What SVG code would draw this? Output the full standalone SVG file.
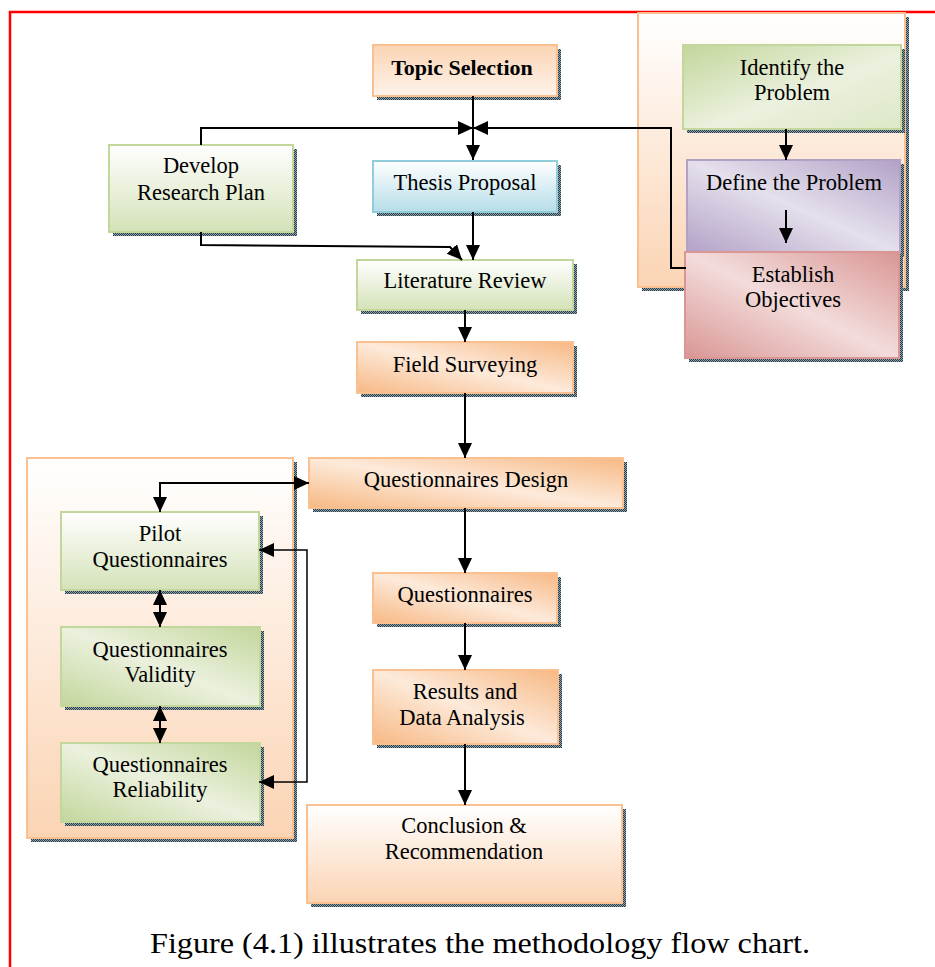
<svg xmlns="http://www.w3.org/2000/svg" width="935" height="967" viewBox="0 0 935 967">
<style>
text{font-family:"Liberation Serif","Times New Roman",serif;font-size:22.5px;fill:#000;text-anchor:middle}
.b{font-weight:bold;font-size:22px}
.sh{fill:url(#shd)}
.or{stroke:#FAC090;stroke-width:2}
.gr{stroke:#C3D69B;stroke-width:2}
.bl{stroke:#92CDDC;stroke-width:2}
.pu{stroke:#B2A1C7;stroke-width:2}
.pk{stroke:#D99694;stroke-width:2}
.c{fill:none;stroke:#000;stroke-width:2}
.a{marker-end:url(#ah)}
.d{marker-start:url(#ah);marker-end:url(#ah)}
</style>
<defs>
<pattern id="shd" width="2" height="2" patternUnits="userSpaceOnUse">
<rect width="2" height="2" fill="#8AA6B2"/>
<rect width="1" height="1" fill="#2F3A40"/>
<rect x="1" y="1" width="1" height="1" fill="#2F3A40"/>
</pattern>
<marker id="ah" markerUnits="userSpaceOnUse" markerWidth="16" markerHeight="16" refX="15" refY="7" orient="auto-start-reverse">
<path d="M0,0 L15,7 L0,14 z" fill="#000"/>
</marker>
<linearGradient id="orV" x1="0" y1="0" x2="0" y2="1"><stop offset="0" stop-color="#FBD4B4"/><stop offset="1" stop-color="#FEF3EA"/></linearGradient>
<linearGradient id="orV2" x1="0" y1="0" x2="0" y2="1"><stop offset="0" stop-color="#FFFFFF"/><stop offset="1" stop-color="#FBD4B4"/></linearGradient>
<linearGradient id="orD" x1="1" y1="0" x2="0" y2="1"><stop offset="0" stop-color="#F7B884"/><stop offset="0.5" stop-color="#FDEADA"/><stop offset="1" stop-color="#F7B884"/></linearGradient>
<linearGradient id="grV" x1="0" y1="0" x2="0" y2="1"><stop offset="0" stop-color="#FFFFFF"/><stop offset="1" stop-color="#D4E2B8"/></linearGradient>
<linearGradient id="grD" x1="1" y1="0" x2="0" y2="1"><stop offset="0" stop-color="#C3D69B"/><stop offset="0.5" stop-color="#EBF1DE"/><stop offset="1" stop-color="#C3D69B"/></linearGradient>
<linearGradient id="grD2" x1="0" y1="0" x2="1" y2="1"><stop offset="0" stop-color="#C3D69B"/><stop offset="0.55" stop-color="#EBF1DE"/><stop offset="1" stop-color="#DDE8C7"/></linearGradient>
<linearGradient id="blV" x1="0" y1="0" x2="0" y2="1"><stop offset="0" stop-color="#FFFFFF"/><stop offset="1" stop-color="#B6DDE8"/></linearGradient>
<linearGradient id="puD" x1="1" y1="0" x2="0" y2="1"><stop offset="0" stop-color="#B2A1C7"/><stop offset="0.5" stop-color="#E5E0EC"/><stop offset="1" stop-color="#B2A1C7"/></linearGradient>
<linearGradient id="pkD" x1="1" y1="0" x2="0" y2="1"><stop offset="0" stop-color="#D99694"/><stop offset="0.5" stop-color="#F2DCDB"/><stop offset="1" stop-color="#D99694"/></linearGradient>
<linearGradient id="ctV" x1="0" y1="0" x2="0" y2="1"><stop offset="0" stop-color="#FFFFFF"/><stop offset="1" stop-color="#FBD4B4"/></linearGradient>
</defs>
<rect width="935" height="967" fill="#FFFFFF"/>
<g id="page-border" fill="none" stroke="#FF0000" stroke-width="2.5">
<path d="M10,967 V12 H935"/>
</g>
<g id="container-right">
<rect class="sh" x="642" y="17" width="267" height="274"/>
<rect x="638" y="13" width="267" height="274" fill="url(#ctV)" class="or"/>
</g>
<g id="container-left">
<rect class="sh" x="31" y="462" width="266" height="380"/>
<rect x="27" y="458" width="266" height="380" fill="url(#ctV)" class="or"/>
</g>
<g id="topic">
<rect class="sh" x="377" y="49" width="184" height="51"/>
<rect x="373" y="45" width="184" height="51" fill="url(#orV)" class="or"/>
<text class="b" x="462" y="75">Topic Selection</text>
</g>
<g id="develop">
<rect class="sh" x="113" y="149" width="184" height="87"/>
<rect x="109" y="145" width="184" height="87" fill="url(#grV)" class="gr"/>
<text x="201" y="173">Develop</text>
<text x="201" y="200">Research Plan</text>
</g>
<g id="thesis">
<rect class="sh" x="377" y="165" width="184" height="51"/>
<rect x="373" y="161" width="184" height="51" fill="url(#blV)" class="bl"/>
<text x="465" y="190">Thesis Proposal</text>
</g>
<g id="literature">
<rect class="sh" x="361" y="264" width="216" height="50"/>
<rect x="357" y="260" width="216" height="50" fill="url(#grV)" class="gr"/>
<text x="465" y="288">Literature Review</text>
</g>
<g id="field">
<rect class="sh" x="361" y="346" width="216" height="51"/>
<rect x="357" y="342" width="216" height="51" fill="url(#orD)" class="or"/>
<text x="465" y="372">Field Surveying</text>
</g>
<g id="qdesign">
<rect class="sh" x="313" y="462" width="314" height="50"/>
<rect x="309" y="458" width="314" height="50" fill="url(#orD)" class="or"/>
<text x="466" y="487">Questionnaires Design</text>
</g>
<g id="questionnaires">
<rect class="sh" x="377" y="577" width="184" height="50"/>
<rect x="373" y="573" width="184" height="50" fill="url(#orD)" class="or"/>
<text x="465" y="602">Questionnaires</text>
</g>
<g id="results">
<rect class="sh" x="377" y="674" width="185" height="74"/>
<rect x="373" y="670" width="185" height="74" fill="url(#orD)" class="or"/>
<text x="465" y="699">Results and</text>
<text x="462" y="725">Data Analysis</text>
</g>
<g id="conclusion">
<rect class="sh" x="311" y="809" width="315" height="98"/>
<rect x="307" y="805" width="315" height="98" fill="url(#orV2)" class="or"/>
<text x="464" y="833">Conclusion &amp;</text>
<text x="464" y="859">Recommendation</text>
</g>
<g id="identify">
<rect class="sh" x="687" y="49" width="218" height="84"/>
<rect x="683" y="45" width="218" height="84" fill="url(#grD2)" class="gr"/>
<text x="792" y="75">Identify the</text>
<text x="792" y="100">Problem</text>
</g>
<g id="define">
<rect class="sh" x="691" y="164" width="213" height="93"/>
<rect x="687" y="160" width="213" height="93" fill="url(#puD)" class="pu"/>
<text x="794" y="190">Define the Problem</text>
</g>
<g id="establish">
<rect class="sh" x="689" y="256" width="214" height="106"/>
<rect x="685" y="252" width="214" height="106" fill="url(#pkD)" class="pk"/>
<text x="793" y="282">Establish</text>
<text x="793" y="307">Objectives</text>
</g>
<g id="pilot">
<rect class="sh" x="65" y="516" width="198" height="78"/>
<rect x="61" y="512" width="198" height="78" fill="url(#grV)" class="gr"/>
<text x="160" y="541">Pilot</text>
<text x="160" y="567">Questionnaires</text>
</g>
<g id="validity">
<rect class="sh" x="65" y="631" width="199" height="79"/>
<rect x="61" y="627" width="199" height="79" fill="url(#grD)" class="gr"/>
<text x="160" y="657">Questionnaires</text>
<text x="160" y="682">Validity</text>
</g>
<g id="reliability">
<rect class="sh" x="65" y="747" width="199" height="79"/>
<rect x="61" y="743" width="199" height="79" fill="url(#grD)" class="gr"/>
<text x="160" y="772">Questionnaires</text>
<text x="160" y="797">Reliability</text>
</g>
<g id="connectors">
<path class="c a" d="M473,96 V160"/>
<path class="c a" d="M201,145 V128 H473"/>
<path class="c a" d="M686,268 H671 V128 H473"/>
<path class="c a" d="M473,212 V260"/>
<path class="c a" d="M201,232 V245 L450,247 L462,260"/>
<path class="c a" d="M465,310 V342"/>
<path class="c a" d="M465,393 V458"/>
<path class="c a" d="M465,508 V573"/>
<path class="c a" d="M465,623 V670"/>
<path class="c a" d="M465,744 V805"/>
<path class="c a" d="M786,129 V160"/>
<path class="c a" d="M786,210 V243"/>
<path class="c d" d="M309,483 H160 V512"/>
<path class="c d" d="M160,590 V627"/>
<path class="c d" d="M160,706 V743"/>
<path class="c d" style="stroke-width:1.5" d="M259,550 H307 V782 H259"/>
</g>
<text id="caption" x="480" y="953" style="font-size:29px" textLength="660" lengthAdjust="spacingAndGlyphs">Figure (4.1) illustrates the methodology flow chart.</text>
</svg>
